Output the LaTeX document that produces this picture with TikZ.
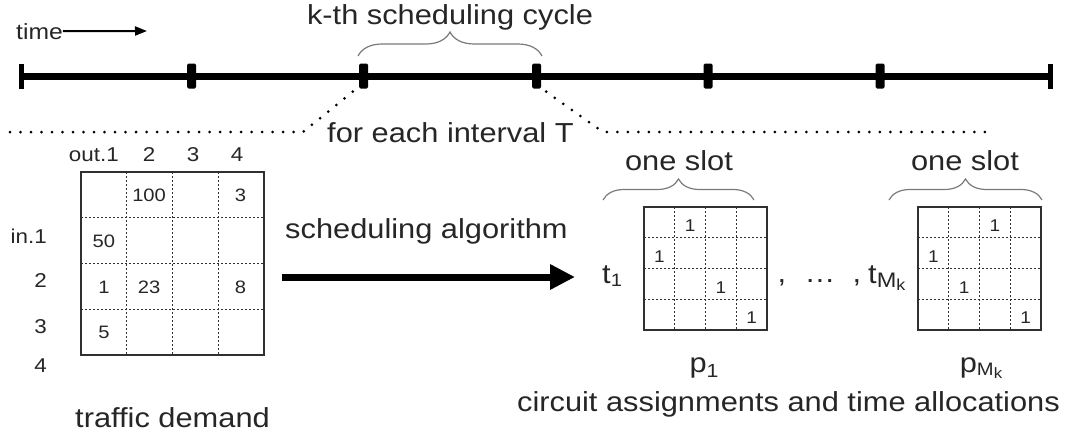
\documentclass[tikz,border=0pt]{standalone}
\usepackage{fontspec}
\setmainfont{Liberation Sans}[FakeStretch=1.12]
\usetikzlibrary{arrows.meta,decorations.pathreplacing}
\definecolor{ink}{HTML}{262626}
\definecolor{bracegray}{HTML}{7A7A7A}
\definecolor{gridink}{HTML}{303030}
\newcommand\fsMain{\fontsize{27.5}{30}\selectfont}
\newcommand\fsTime{\fontsize{22}{24}\selectfont}
\newcommand\fsHead{\fontsize{20}{22}\selectfont}
\newcommand\fsCell{\fontsize{18}{20}\selectfont}
\newcommand\fsOne{\fontsize{17}{19}\selectfont}
\begin{document}
\begin{tikzpicture}[x=1pt,y=-1pt,
  txt/.style={inner sep=0pt, text=ink, font=\fsMain},
  head/.style={inner sep=0pt, text=ink, font=\fsHead},
  cellnum/.style={inner sep=0pt, text=ink, font=\fsCell},
  onenum/.style={inner sep=0pt, text=ink, font=\fsOne},
  tickmid/.style={fill=black, minimum width=9pt, minimum height=25pt, inner sep=0pt, rounded corners=1.5pt},
  tickend/.style={fill=black, minimum width=5pt, minimum height=25pt, inner sep=0pt},
  timeline/.style={line width=7pt},
  dotline/.style={line width=3pt, line cap=round, dash pattern=on 0pt off 10.5pt, black},
  matbox/.style={draw=gridink, line width=1.5pt, inner sep=0pt},
  cellsep/.style={draw=gridink, line width=1.2pt, dash pattern=on 2pt off 2pt},
  curly/.style={draw=bracegray, line width=1.2pt, decorate, decoration={brace, amplitude=#1}},
  bigarrow/.style={line width=7pt, -{Triangle[length=25pt, width=24pt]}},
  timearrow/.style={line width=2pt, -{Triangle[length=12pt, width=9pt]}}
]
\useasboundingbox (0,0) rectangle (1075,439);

% ---- time axis ----
\node[inner sep=0pt, text=ink, font=\fsTime, anchor=base west] (time) at (16,39) {time};
\coordinate (timeend) at (147,31);
\draw[timearrow] (time.east) -- (timeend);

\node[tickend] (tkL) at (21,76) {};
\node[tickend] (tkR) at (1050,76) {};
\draw[timeline] (tkL.center) -- (tkR.center);
\node[tickmid] (tk2) at (191.5,76) {};
\node[tickmid] (tk3) at (363.5,76) {};
\node[tickmid] (tk4) at (536.5,76) {};
\node[tickmid] (tk5) at (708,76) {};
\node[tickmid] (tk6) at (880,76) {};

% ---- scheduling cycle ----
\coordinate (cycA) at (358,56);
\coordinate (cycB) at (542,56);
\draw[curly=24pt] (cycA) -- (cycB);
\node[txt, anchor=base] (cycle) at (450,24) {k-th scheduling cycle};

% ---- zoom-in of one interval ----
\coordinate (zl0) at (10,132);
\coordinate (zl1) at (303,132);
\coordinate (zr1) at (603,132);
\coordinate (zr0) at (985,132);
\draw[dotline] (zl0) -- (zl1) -- ([xshift=-6pt,yshift=-3pt]tk3.south west);
\draw[dotline] ([xshift=5pt,yshift=-3pt]tk4.south east) -- (zr1) -- (zr0);
\node[txt, anchor=base west] (interval) at (327,142) {for each interval T};

% ---- traffic demand matrix ----
\node[matbox, minimum size=183pt] (demand) at (172.5,263.5) {};
\foreach \i in {1,2,3} {
  \draw[cellsep] ({81+\i*45.75},172) -- ({81+\i*45.75},355);
  \draw[cellsep] (81,{172+\i*45.75}) -- (264,{172+\i*45.75});
}
\node[head, anchor=base east] (out1) at (119,161) {out.1};
\node[head, anchor=base] (out2) at (149,161) {2};
\node[head, anchor=base] (out3) at (193,161) {3};
\node[head, anchor=base] (out4) at (237,161) {4};
\node[head, anchor=base east] (in1) at (47,243) {in.1};
\node[head, anchor=base east] (in2) at (47,287) {2};
\node[head, anchor=base east] (in3) at (47,333) {3};
\node[head, anchor=base east] (in4) at (47,372) {4};

\node[cellnum] (d12) at (149.1,195.4) {100};
\node[cellnum] (d14) at (240.6,195.4) {3};
\node[cellnum] (d21) at (103.9,241.1) {50};
\node[cellnum] (d31) at (103.9,286.9) {1};
\node[cellnum] (d32) at (149.1,286.9) {23};
\node[cellnum] (d34) at (240.6,286.9) {8};
\node[cellnum] (d41) at (103.9,332.6) {5};
\node[txt, anchor=base] (demandlbl) at (172.5,427) {traffic demand};

% ---- scheduling algorithm ----
\node[txt, anchor=base west] (alglbl) at (285,238) {scheduling algorithm};
\coordinate (algA) at (282,277);
\coordinate (algB) at (575,277);
\draw[bigarrow] (algA) -- (algB);

% ---- first slot ----
\node[matbox, minimum size=123pt] (perm1) at (705.5,268.5) {};
\foreach \i in {1,2,3} {
  \draw[cellsep] ({644+\i*30.75},207) -- ({644+\i*30.75},330);
  \draw[cellsep] (644,{207+\i*30.75}) -- (767,{207+\i*30.75});
}
\node[onenum] (pa1) at (690.1,225.9) {1};
\node[onenum] (pa2) at (659.4,256.6) {1};
\node[onenum] (pa3) at (720.9,287.4) {1};
\node[onenum] (pa4) at (751.6,318.1) {1};
\coordinate (slotA1) at (603,200);
\coordinate (slotB1) at (754,200);
\draw[curly=21pt] (slotA1) -- (slotB1);
\node[txt, anchor=base] (slot1) at (679,170) {one slot};
\node[txt, anchor=base west] (t1) at (602,283) {t\raisebox{-3pt}{\fontsize{18}{18}\selectfont 1}};
\node[txt, anchor=base] (p1) at (704,372) {p\raisebox{-5pt}{\fontsize{19}{19}\selectfont 1}};

% ---- separators ----
\node[txt, anchor=base] (comma1) at (782,282) {,};
\node[txt, anchor=base] (ellip) at (820,282) {…};
\node[txt, anchor=base] (comma2) at (857,282) {,};

% ---- last slot ----
\node[matbox, minimum size=123pt] (perm2) at (979.5,268.5) {};
\foreach \i in {1,2,3} {
  \draw[cellsep] ({918+\i*30.75},207) -- ({918+\i*30.75},330);
  \draw[cellsep] (918,{207+\i*30.75}) -- (1041,{207+\i*30.75});
}
\node[onenum] (pb1) at (994.9,225.9) {1};
\node[onenum] (pb2) at (933.4,256.6) {1};
\node[onenum] (pb3) at (964.1,287.4) {1};
\node[onenum] (pb4) at (1025.6,318.1) {1};
\coordinate (slotA2) at (889,200);
\coordinate (slotB2) at (1042,200);
\draw[curly=21pt] (slotA2) -- (slotB2);
\node[txt, anchor=base] (slot2) at (965,170) {one slot};
\node[txt, anchor=base west] (tM) at (868,283) {t\raisebox{-4pt}{\fontsize{21}{21}\selectfont M\raisebox{-3pt}{\fontsize{16}{16}\selectfont k}}};
\node[txt, anchor=base] (pM) at (981,372) {p\raisebox{-3pt}{\fontsize{18}{18}\selectfont M\raisebox{-3pt}{\fontsize{15}{15}\selectfont k}}};

\node[txt, anchor=base east] (resultlbl) at (1060,411) {circuit assignments and time allocations};
\end{tikzpicture}
\end{document}
